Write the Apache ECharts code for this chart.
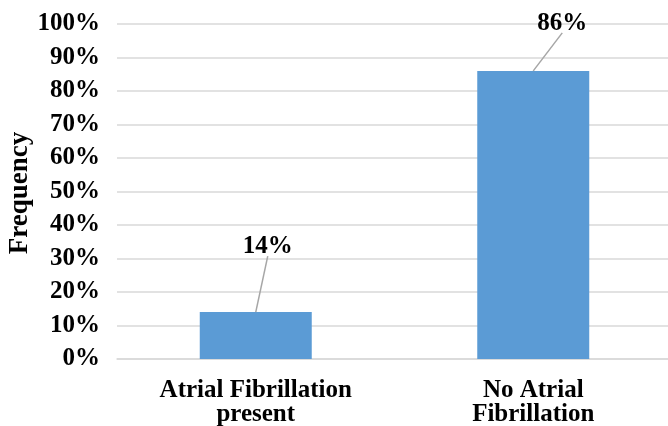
<!DOCTYPE html>
<html>
<head>
<meta charset="utf-8">
<script src="https://cdn.jsdelivr.net/npm/echarts@6/dist/echarts.min.js"></script>
<style>
  html, body { margin: 0; padding: 0; background: #fff; }
  #chart { width: 668px; height: 426px; }
</style>
</head>
<body>
<div id="chart"></div>
<script>
// Share of patients with / without atrial fibrillation
const categories = ['Atrial Fibrillation\npresent', 'No Atrial\nFibrillation'];
const frequency = [14, 86];
const yTicks = [0, 10, 20, 30, 40, 50, 60, 70, 80, 90, 100];

// Pixel offsets of each value label's leader-line end from the bar top
const labelOffsets = [[12, -56], [29, -38]];

const FONT = '"Liberation Serif", "Times New Roman", serif';
const chart = echarts.init(document.getElementById('chart'), null, { renderer: 'canvas' });

chart.setOption({
  animation: false,
  grid: { left: 117, top: 24, width: 555, height: 335, outerBoundsMode: 'none' },
  xAxis: {
    type: 'category',
    data: categories,
    axisLine: { lineStyle: { color: '#d9d9d9', width: 1.5 } },
    axisTick: { show: false },
    axisLabel: {
      color: '#000', fontFamily: FONT, fontWeight: 'bold', fontSize: 25,
      lineHeight: 24, margin: 20, interval: 0
    }
  },
  yAxis: {
    type: 'value',
    min: yTicks[0],
    max: yTicks[yTicks.length - 1],
    interval: yTicks[1] - yTicks[0],
    axisLine: { show: false },
    axisTick: { show: false },
    splitLine: { lineStyle: { color: '#d9d9d9', width: 1.5 } },
    axisLabel: {
      color: '#000', fontFamily: FONT, fontWeight: 'bold', fontSize: 25, margin: 17,
      formatter: v => v + '%'
    }
  },
  // rotated axis title, left of the tick labels
  graphic: [{
    type: 'text',
    x: 20,
    y: 193,
    rotation: Math.PI / 2,
    style: {
      text: 'Frequency',
      fill: '#000',
      align: 'center',
      verticalAlign: 'middle',
      font: 'bold 27px ' + FONT
    }
  }],
  series: [
    {
      type: 'bar',
      data: frequency,
      barWidth: 112,
      itemStyle: { color: '#5b9bd5' },
      z: 2
    },
    {
      // value labels with leader lines
      type: 'custom',
      data: frequency.map((v, i) => [i, v]),
      z: 3,
      renderItem: function (params, api) {
        const i = params.dataIndex;
        const top = api.coord([api.value(0), api.value(1)]);
        const off = labelOffsets[i];
        const end = [top[0] + off[0], top[1] + off[1]];
        return {
          type: 'group',
          children: [
            {
              type: 'line',
              shape: { x1: top[0], y1: top[1], x2: end[0], y2: end[1] },
              style: { stroke: '#a6a6a6', lineWidth: 1.5 }
            },
            {
              type: 'text',
              style: {
                text: api.value(1) + '%',
                x: end[0], y: end[1] + 3,
                align: 'center', verticalAlign: 'bottom',
                fill: '#000', font: 'bold 25px ' + FONT
              }
            }
          ]
        };
      }
    }
  ]
});
</script>
</body>
</html>
